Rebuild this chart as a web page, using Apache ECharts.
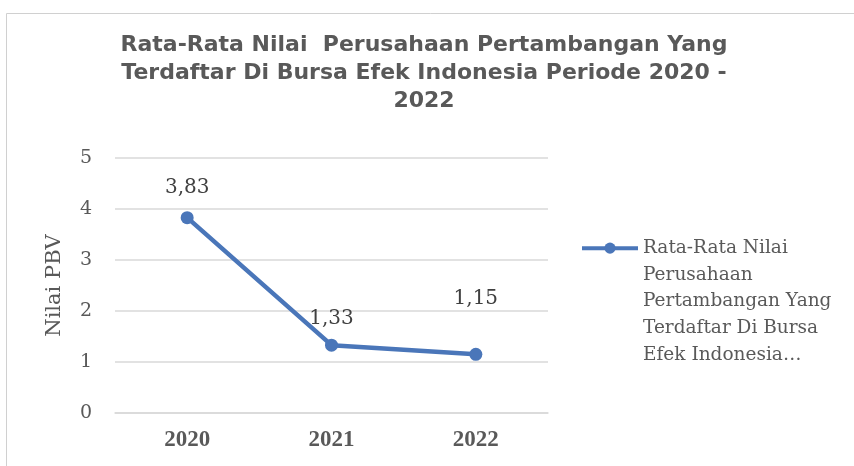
<!DOCTYPE html>
<html><head><meta charset="utf-8">
<script src="https://cdn.jsdelivr.net/npm/echarts@6/dist/echarts.min.js"></script>
<style>html,body{margin:0;padding:0;background:#fff}#c{width:854px;height:466px}</style>
</head><body><div id="c"></div>
<script>
const categories = ['2020', '2021', '2022'];
const values = [3.83, 1.33, 1.15];
const yTicks = [0, 1, 2, 3, 4, 5];
const seriesName = 'Rata-Rata Nilai Perusahaan Pertambangan Yang Terdaftar Di Bursa Efek Indonesia Periode 2020 - 2022';
const legendLines = ['Rata-Rata Nilai', 'Perusahaan', 'Pertambangan Yang', 'Terdaftar Di Bursa', 'Efek Indonesia…'];
const titleText = 'Rata-Rata Nilai  Perusahaan Pertambangan Yang\nTerdaftar Di Bursa Efek Indonesia Periode 2020 -\n2022';

// label offsets (style only)
const labelDistance = [13, 10, 39];

const chart = echarts.init(document.getElementById('c'), null, {renderer: 'canvas'});
const serif = '"DejaVu Serif", serif';
const serif2 = '"Liberation Serif", serif';
chart.setOption({
  animation: false,
  backgroundColor: '#fff',
  graphic: [{
    type: 'rect', shape: {x: 6.5, y: 13.5, width: 900, height: 500},
    style: {fill: 'none', stroke: '#d0d0d0', lineWidth: 1}, silent: true
  }],
  title: {
    text: titleText,
    left: 419, top: 26,
    textAlign: 'center',
    textStyle: {fontFamily: '"DejaVu Sans", sans-serif', fontWeight: 'bold', fontSize: 22, color: '#595959', lineHeight: 28}
  },
  legend: {
    data: [seriesName],
    left: 575, top: 123,
    itemWidth: 56, itemHeight: 14,
    lineStyle: {width: 4, color: '#4a76b9'},
    formatter: () => '\n\n\n\n' + legendLines.join('\n'),
    textStyle: {fontFamily: serif, fontSize: 18.5, color: '#595959', lineHeight: 26.7}
  },
  grid: {left: 115, right: 306, top: 158, bottom: 53, containLabel: false},
  xAxis: {
    type: 'category', data: categories, boundaryGap: true,
    axisLine: {lineStyle: {color: '#d9d9d9', width: 1.5}},
    axisTick: {show: false},
    axisLabel: {fontFamily: serif2, fontWeight: 'bold', fontSize: 23, color: '#595959', margin: 16}
  },
  yAxis: {
    type: 'value', min: yTicks[0], max: yTicks[yTicks.length - 1], interval: 1,
    name: 'Nilai PBV', nameLocation: 'middle', nameGap: 50, nameRotate: 90,
    nameTextStyle: {fontFamily: serif, fontSize: 21, color: '#595959'},
    axisLine: {show: false}, axisTick: {show: false},
    axisLabel: {fontFamily: serif, fontSize: 19, color: '#595959', margin: 23},
    splitLine: {lineStyle: {color: '#d9d9d9', width: 1.5}}
  },
  series: [{
    name: seriesName, type: 'line',
    data: values.map((v, i) => ({value: v, label: {distance: labelDistance[i]}})),
    symbol: 'circle', symbolSize: 13,
    lineStyle: {color: '#4a76b9', width: 4.5},
    itemStyle: {color: '#4a76b9'},
    label: {show: true, position: 'top', fontFamily: serif, fontSize: 20, color: '#404040',
      formatter: p => p.value.toFixed(2).replace('.', ',')}
  }]
});
</script></body></html>
